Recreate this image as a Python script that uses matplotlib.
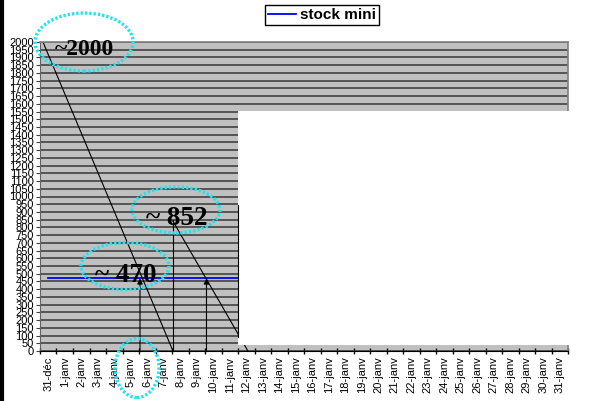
import matplotlib
matplotlib.use('Agg')
import matplotlib.pyplot as plt
from matplotlib.patches import Ellipse, Rectangle
from matplotlib.lines import Line2D

# catégories (jours)
dates = ['31-déc', '1-janv', '2-janv', '3-janv', '4-janv', '5-janv', '6-janv',
         '7-janv', '8-janv', '9-janv', '10-janv', '11-janv', '12-janv', '13-janv',
         '14-janv', '15-janv', '16-janv', '17-janv', '18-janv', '19-janv',
         '20-janv', '21-janv', '22-janv', '23-janv', '24-janv', '25-janv',
         '26-janv', '27-janv', '28-janv', '29-janv', '30-janv', '31-janv']

# série "stock mini"
stock_mini = [470, 470, 470, 470, 470, 470, 470, 470, 470, 470, 470, 470, 470,
              470, 470, 470, 470, 470, 470, 470, 470, 470, 470, 470, 470, 470,
              470, 470, 470, 470, 470, 470]

# traits dessinés à la main (positions en jours / valeurs de stock)
conso1_x = [-0.32, 7.56]
conso1_y = [2000, 0]
conso2_x = [7.56, 12.1]
conso2_y = [840, 0]
arrow_x = [5.56, 9.59]
arrow_val = 470
reappro_x = 7.56
reappro_val = 850

plt.rcParams['font.family'] = ['Liberation Sans', 'DejaVu Sans']

fig = plt.figure(figsize=(6.06, 4.01), dpi=100)
ax = fig.add_axes([40 / 606, 50 / 401, 528 / 606, 309 / 401])

x = list(range(len(dates)))
ax.plot(x, stock_mini, color='#0000ff', lw=1.3, zorder=2, label='stock mini')

# lignes de consommation
ax.plot(conso1_x, conso1_y, color='black', lw=0.8, zorder=2)
ax.plot(conso2_x, conso2_y, color='black', lw=0.8, zorder=2)
ax.plot([reappro_x, reappro_x], [0, reappro_val], color='black', lw=0.8, zorder=4)
for ax_x in arrow_x:
    ax.annotate('', xy=(ax_x, arrow_val), xytext=(ax_x, 0),
                arrowprops=dict(arrowstyle='-|>', color='black', lw=0.8,
                                mutation_scale=8, shrinkA=0, shrinkB=0),
                zorder=4)

# cache blanc sur la zone de traçage
ax.add_patch(Rectangle((11.52, 39), 21, 1516, facecolor='white',
                       edgecolor='none', zorder=3, clip_on=False))
ax.plot([11.52, 11.52], [90, 945], color='black', lw=0.8, zorder=4)

# textes
tfont = dict(family='Liberation Serif', weight='bold', zorder=5,
             va='center', ha='left')
ax.text(0.41, 1950, '~2000', fontsize=17, **tfont)
ax.text(5.92, 858, '~ 852', fontsize=19.5, **tfont)
ax.text(2.83, 490, '~ 470', fontsize=19.5, **tfont)

# ellipses pointillées
ell = [(2.17, 2000, 5.94, 375), (7.74, 913, 5.33, 298),
       (4.65, 550, 5.33, 304), (5.38, -110, 2.67, 382)]
for cx, cy, w, h in ell:
    ax.add_patch(Ellipse((cx, cy), w, h, fill=False, edgecolor='#20e4f0',
                         lw=2.4, linestyle=(0, (0.7, 0.6)), zorder=6,
                         clip_on=False))

# axes
ax.set_xlim(-0.5, 31.5)
ax.set_ylim(0, 2000)
ax.set_facecolor('#c0c0c0')
ax.set_yticks(range(0, 2001, 50))
ax.set_yticklabels([str(v) for v in range(0, 2001, 50)], fontsize=8)
ax.yaxis.grid(True, color='#383838', lw=1.1)
ax.set_axisbelow(True)
ax.tick_params(axis='y', length=3, pad=1.5, labelsize=8, color='#404040')

ax.set_xticks(x)
ax.set_xticklabels(dates, rotation=90, fontsize=8)
ax.set_xticks([i + 0.5 for i in range(-1, 32)], minor=True)
ax.tick_params(axis='x', which='major', length=0, pad=4)
ax.tick_params(axis='x', which='minor', length=5, direction='inout', width=1)

for s in ['top', 'right']:
    ax.spines[s].set_color('#808080')
    ax.spines[s].set_linewidth(1.2)
ax.spines['left'].set_color('#606060')
ax.spines['bottom'].set_color('black')

leg = fig.legend(handles=[Line2D([], [], color='#0000ff', lw=1.3)],
                 labels=['stock mini'], loc='upper left',
                 bbox_to_anchor=(265 / 606, 396 / 401), borderaxespad=0,
                 fancybox=False, framealpha=1, edgecolor='black',
                 prop=dict(weight='bold', size=11), handlelength=1.8,
                 borderpad=0.2, handletextpad=0.3)
leg.get_frame().set_linewidth(1.0)

# bordure noire à gauche
fig.add_artist(Line2D([2 / 606, 2 / 606], [0, 1], color='black', lw=3))

fig.savefig('out.png', dpi=100)
